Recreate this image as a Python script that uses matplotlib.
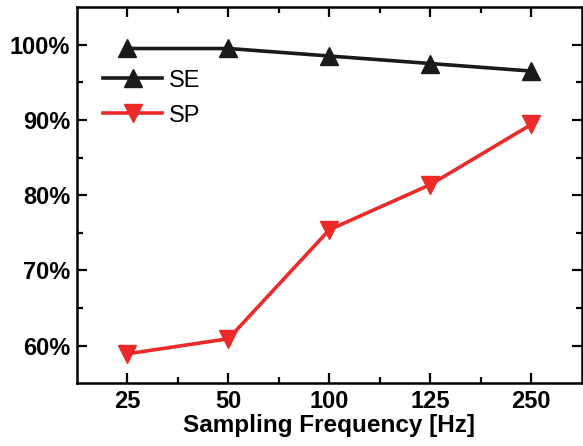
import matplotlib
matplotlib.use('Agg')
import matplotlib.pyplot as plt
from matplotlib.ticker import FixedLocator, FuncFormatter

freqs = ['25', '50', '100', '125', '250']
se = [99.5, 99.5, 98.5, 97.5, 96.5]
sp = [58.9, 60.9, 75.4, 81.4, 89.4]

plt.rcParams['font.family'] = ['Liberation Sans', 'DejaVu Sans']

fig = plt.figure(figsize=(5.83, 4.46), dpi=100)
ax = fig.add_axes([0.132, 0.141, 0.866, 0.843])
x = list(range(len(freqs)))
ax.plot(x, se, '-', color='#1a1a1a', lw=2.6, marker='^', ms=13, label='SE')
ax.plot(x, sp, '-', color='#ec2a2a', lw=2.6, marker='v', ms=13, label='SP')

ax.set_xlim(-0.5, 4.5)
ax.set_ylim(55, 105)
ax.set_xticks(x)
ax.set_xticklabels(freqs)
ax.xaxis.set_minor_locator(FixedLocator([0.5, 1.5, 2.5, 3.5]))
ax.set_yticks([60, 70, 80, 90, 100])
ax.yaxis.set_minor_locator(FixedLocator([65, 75, 85, 95]))
ax.yaxis.set_major_formatter(FuncFormatter(lambda v, p: f'{v:.0f}%'))
ax.tick_params(which='both', direction='in', top=True, right=True, width=1.6)
ax.tick_params(which='major', length=7, labelsize=17, pad=5)
ax.tick_params(which='minor', length=4)
for lab in ax.get_xticklabels() + ax.get_yticklabels():
    lab.set_fontweight('bold')
for s in ax.spines.values():
    s.set_linewidth(1.8)
ax.set_xlabel('Sampling Frequency [Hz]', fontsize=17.5, fontweight='bold', labelpad=1)
ax.legend(loc='upper left', bbox_to_anchor=(0.01, 0.89), frameon=False, fontsize=17,
          handlelength=2.5, handletextpad=0.3, labelspacing=0.55)

fig.savefig('out.png', dpi=100)
